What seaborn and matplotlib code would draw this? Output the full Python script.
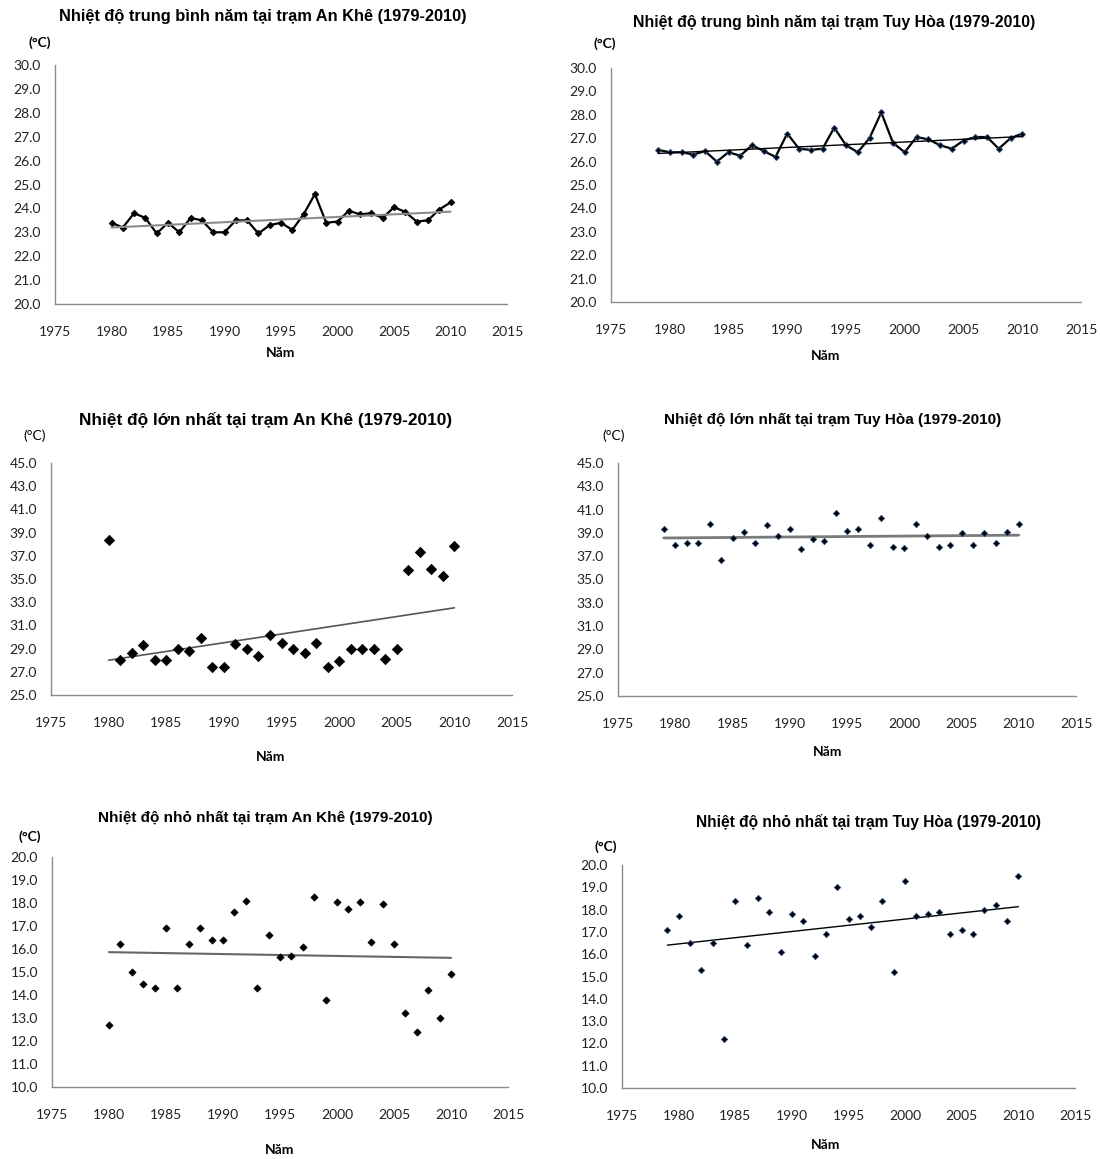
import matplotlib
matplotlib.use("Agg")
import matplotlib.pyplot as plt
import matplotlib.ticker as mticker
import seaborn as sns
import pandas as pd

# ---------------- data ----------------
years_ankhe = list(range(1980, 2011))
years_tuyhoa = list(range(1979, 2011))

tmean_ankhe = [23.4, 23.2, 23.8, 23.6, 22.95, 23.4, 23.0, 23.6, 23.5, 23.0,
               23.0, 23.5, 23.5, 22.95, 23.3, 23.4, 23.1, 23.75, 24.6, 23.4,
               23.45, 23.9, 23.75, 23.8, 23.6, 24.05, 23.85, 23.45, 23.5, 23.95,
               24.25]
tmean_tuyhoa = [26.5, 26.4, 26.4, 26.3, 26.45, 26.0, 26.4, 26.25, 26.7, 26.45,
                26.2, 27.2, 26.55, 26.5, 26.55, 27.45, 26.7, 26.4, 27.0, 28.1,
                26.8, 26.4, 27.05, 26.95, 26.7, 26.55, 26.9, 27.05, 27.05, 26.55,
                27.0, 27.2]
tmax_ankhe = [38.4, 28.0, 28.6, 29.3, 28.0, 28.0, 29.0, 28.8, 29.9, 27.4,
              27.4, 29.4, 29.0, 28.4, 30.2, 29.5, 29.0, 28.6, 29.5, 27.4,
              27.9, 29.0, 29.0, 29.0, 28.1, 29.0, 35.8, 37.35, 35.9, 35.3,
              37.85]
tmax_tuyhoa = [39.3, 37.95, 38.1, 38.1, 39.8, 36.7, 38.6, 39.05, 38.1, 39.7,
               38.7, 39.35, 37.65, 38.45, 38.3, 40.75, 39.2, 39.3, 37.95, 40.3,
               37.8, 37.7, 39.8, 38.7, 37.8, 37.95, 38.95, 37.95, 38.95, 38.1,
               39.05, 39.8]
tmin_ankhe = [12.7, 16.2, 15.0, 14.5, 14.3, 16.9, 14.3, 16.2, 16.9, 16.4,
              16.4, 17.6, 18.1, 14.3, 16.6, 15.65, 15.7, 16.1, 18.25, 13.8,
              18.05, 17.75, 18.05, 16.3, 17.95, 16.2, 13.2, 12.4, 14.2, 13.0,
              14.9]
tmin_tuyhoa = [17.1, 17.7, 16.5, 15.3, 16.5, 12.2, 18.4, 16.4, 18.5, 17.9,
               16.1, 17.8, 17.5, 15.9, 16.9, 19.0, 17.6, 17.7, 17.2, 18.4,
               15.2, 19.3, 17.7, 17.8, 17.9, 16.9, 17.1, 16.9, 18.0, 18.2,
               17.5, 19.5]

titles = [
    "Nhiệt độ trung bình năm tại trạm An Khê (1979-2010)",
    "Nhiệt độ trung bình năm tại trạm Tuy Hòa (1979-2010)",
    "Nhiệt độ lớn nhất tại trạm An Khê (1979-2010)",
    "Nhiệt độ lớn nhất tại trạm Tuy Hòa (1979-2010)",
    "Nhiệt độ nhỏ nhất tại trạm An Khê (1979-2010)",
    "Nhiệt độ nhỏ nhất tại trạm Tuy Hòa (1979-2010)",
]
unit_label = "(°C)"
x_label = "Năm"
x_ticks = [1975, 1980, 1985, 1990, 1995, 2000, 2005, 2010, 2015]
y_ticks_mean = [20.0, 21.0, 22.0, 23.0, 24.0, 25.0, 26.0, 27.0, 28.0, 29.0, 30.0]
y_ticks_max = [25.0, 27.0, 29.0, 31.0, 33.0, 35.0, 37.0, 39.0, 41.0, 43.0, 45.0]
y_ticks_min = [10.0, 11.0, 12.0, 13.0, 14.0, 15.0, 16.0, 17.0, 18.0, 19.0, 20.0]

# ---------------- figure ----------------
sns.set_style("white")
plt.rcParams['font.family'] = ['Lato', 'DejaVu Sans']

W, H = 1100, 1159
fig = plt.figure(figsize=(W / 100, H / 100), dpi=100)
fig.patch.set_facecolor("white")

TICK_FONT = ['Lato', 'DejaVu Sans']
TITLE_FONT = ['Liberation Sans', 'DejaVu Sans']


def make_panel(box, years, values, yticks, title, title_pos, title_size,
               unit_pos, unit_bold, xlabel_pos, connect, msize, mcolor,
               trend_color, trend_lw):
    x0, x1, ytop, ybot = box
    ax = fig.add_axes([x0 / W, 1 - ybot / H, (x1 - x0) / W, (ybot - ytop) / H])
    df = pd.DataFrame({"year": years, "value": values})
    if connect:
        sns.lineplot(data=df, x="year", y="value", ax=ax, color="black",
                     linewidth=1.6, marker="D", markersize=msize,
                     markeredgecolor=mcolor, markerfacecolor="black")
    else:
        sns.scatterplot(data=df, x="year", y="value", ax=ax, marker="D",
                        s=msize ** 2, color="black", edgecolor=mcolor,
                        linewidth=0.6, zorder=3)
    sns.regplot(data=df, x="year", y="value", ax=ax, scatter=False, ci=None,
                line_kws=dict(color=trend_color, linewidth=trend_lw, zorder=2))
    ax.set_xlim(1975, 2015)
    ax.set_ylim(yticks[0], yticks[-1])
    ax.set_xticks(x_ticks)
    ax.set_yticks(yticks)
    ax.yaxis.set_major_formatter(mticker.FormatStrFormatter("%.1f"))
    ax.set_xlabel("")
    ax.set_ylabel("")
    for s in ["top", "right"]:
        ax.spines[s].set_visible(False)
    for s in ["left", "bottom"]:
        ax.spines[s].set_color("#8c8c8c")
        ax.spines[s].set_linewidth(1.0)
    ax.tick_params(axis="both", length=0, labelsize=10, labelcolor="#222222")
    ax.tick_params(axis="x", pad=16)
    ax.tick_params(axis="y", pad=10)
    for lab in ax.get_xticklabels() + ax.get_yticklabels():
        lab.set_family(TICK_FONT)
    ax.patch.set_alpha(0)
    # title, unit and x-label placed in figure pixel coordinates
    fig.text(title_pos[0] / W, 1 - title_pos[1] / H, title, ha="center",
             va="center", fontsize=title_size, fontweight="bold",
             family=TITLE_FONT, color="black")
    fig.text(unit_pos[0] / W, 1 - unit_pos[1] / H, unit_label, ha="center",
             va="center", fontsize=10, family=TICK_FONT,
             fontweight="bold" if unit_bold else "normal", color="black")
    fig.text(xlabel_pos[0] / W, 1 - xlabel_pos[1] / H, x_label, ha="center",
             va="center", fontsize=10, family=TICK_FONT, fontweight="bold",
             color="black")
    return ax


make_panel((55, 507, 65, 304), years_ankhe, tmean_ankhe, y_ticks_mean,
           titles[0], (263, 17), 11.8, (40, 43), True, (281, 353), True, 3.2,
           "black", "#8a8a8a", 1.5)
make_panel((611, 1081, 68, 302), years_tuyhoa, tmean_tuyhoa, y_ticks_mean,
           titles[1], (834, 22), 11.4, (605, 44), True, (826, 356), True, 3.0,
           "#2a4a7a", "black", 1.0)
make_panel((51, 512, 463, 695), years_ankhe, tmax_ankhe, y_ticks_max,
           titles[2], (266, 420), 12.4, (35, 436), False, (271, 757), False, 5.2,
           "black", "#555555", 1.2)
make_panel((618, 1076, 463, 696), years_tuyhoa, tmax_tuyhoa, y_ticks_max,
           titles[3], (833, 420), 11.0, (614, 436), False, (828, 752), False, 3.2,
           "#2a4a7a", "#7a7a7a", 2.0)
make_panel((52, 508, 857, 1087), years_ankhe, tmin_ankhe, y_ticks_min,
           titles[4], (265, 818), 11.0, (30, 837), True, (280, 1150), False, 3.6,
           "black", "#666666", 1.5)
make_panel((622, 1075, 865, 1088), years_tuyhoa, tmin_tuyhoa, y_ticks_min,
           titles[5], (868, 822), 11.2, (606, 847), True, (826, 1145), False, 3.2,
           "#2a4a7a", "black", 1.0)

fig.savefig("out.png", dpi=100, facecolor="white")
